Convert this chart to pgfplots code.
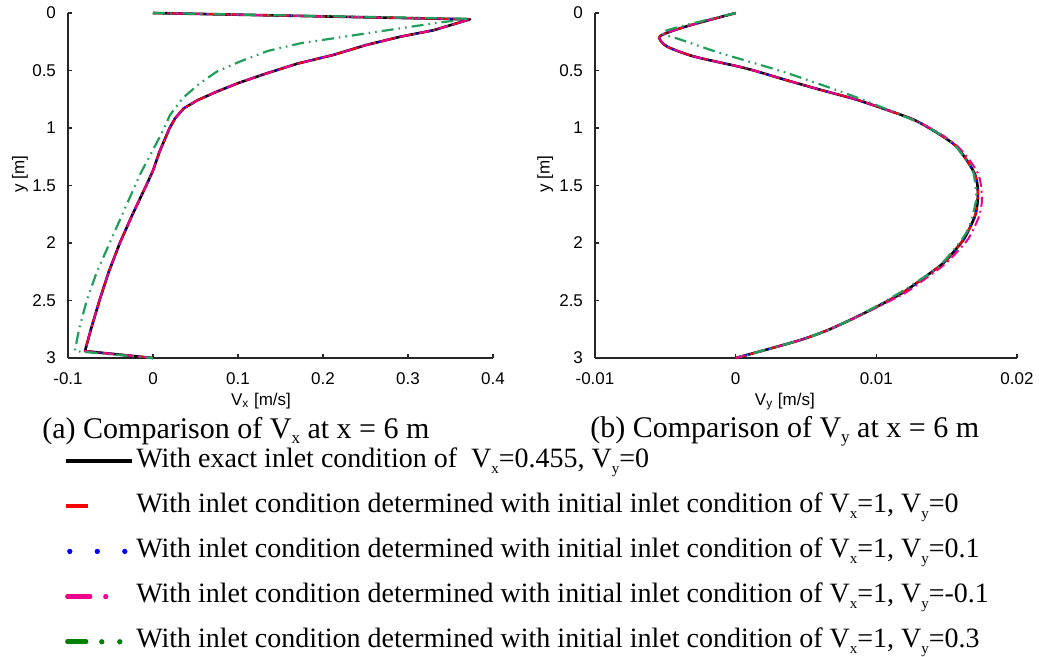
\documentclass[border=0pt]{standalone}
\usepackage{fontspec}
\setmainfont{Liberation Serif}
\setsansfont{Liberation Sans}
\usepackage{pgfplots}
\pgfplotsset{compat=1.18}
\usepackage{pgfplotstable}

\definecolor{cgreen}{RGB}{30,160,90}
\definecolor{lgreen}{RGB}{0,128,0}

% Vx profiles at x = 6 m (columns: Vx, y)
\pgfplotstableread{
vx      y
0       0
0.373   0.055
0.330   0.15
0.291   0.206
0.250   0.28
0.212   0.365
0.170   0.44
0.134   0.524
0.100   0.61
0.075   0.684
0.052   0.76
0.036   0.83
0.026   0.916
0.0196  1.0
0.008   1.2
0.0     1.37
-0.008  1.5
-0.024  1.75
-0.039  2.0
-0.052  2.25
-0.063  2.5
-0.073  2.75
-0.080  2.94
0       3
}\vxmain

\pgfplotstableread{
vx      y
0       0
0.372   0.05
0.330   0.09
0.251   0.177
0.173   0.264
0.135   0.33
0.102   0.423
0.075   0.51
0.055   0.612
0.035   0.74
0.020   0.887
0.012   1.02
0.0     1.19
-0.015  1.4
-0.030  1.65
-0.051  2.0
-0.066  2.25
-0.078  2.5
-0.087  2.75
-0.092  2.94
0       3
}\vxgreen

% Vy profiles at x = 6 m (columns: Vy, y)
\pgfplotstableread{
vy       y
0        0
-0.0035  0.116
-0.0054  0.203
-0.0049  0.29
-0.0030  0.377
0.0000   0.46
0.0013   0.5
0.0035   0.58
0.0060   0.667
0.0085   0.75
0.0107   0.84
0.0127   0.93
0.0143   1.04
0.0156   1.15
0.0164   1.275
0.0170   1.40
0.0172   1.51
0.0172   1.64
0.0170   1.77
0.0162   1.97
0.0148   2.17
0.0134   2.3
0.0119   2.43
0.0101   2.55
0.0083   2.66
0.0065   2.76
0.0047   2.84
0.0024   2.92
0        3
}\vymain

\pgfplotstableread{
vy       y
0        0
-0.0035  0.116
-0.0054  0.203
-0.0049  0.29
-0.0030  0.377
0.0000   0.46
0.0013   0.5
0.0035   0.58
0.0060   0.667
0.0085   0.75
0.0107   0.84
0.0127   0.93
0.0144   1.04
0.0157   1.15
0.0166   1.275
0.01725  1.40
0.01745  1.51
0.0175   1.64
0.0173   1.77
0.0165   1.97
0.0150   2.17
0.0136   2.3
0.0121   2.43
0.0102   2.55
0.0083   2.66
0.0065   2.76
0.0047   2.84
0.0024   2.92
0        3
}\vymag

\pgfplotstableread{
vy       y
0        0
-0.0039  0.116
-0.00525 0.174
-0.0039  0.232
-0.0011  0.348
0.0036   0.52
0.0084   0.725
0.0131   0.957
0.0154   1.13
0.0165   1.3
0.0169   1.39
0.0171   1.62
0.0164   1.91
0.0145   2.2
0.0131   2.32
0.0117   2.43
0.0100   2.55
0.0083   2.66
0.0065   2.76
0.0047   2.84
0.0024   2.92
0        3
}\vygreen

\newcommand{\lsub}[1]{\raisebox{-3pt}{\fontsize{7.5}{8}\selectfont #1}}
\newcommand{\csub}[1]{\raisebox{-2.5pt}{\fontsize{8.5}{9}\selectfont #1}}
\newcommand{\tickfont}{\sffamily\fontsize{8.5}{10}\selectfont}

\pgfplotsset{
  profile/.style={
    scale only axis,
    height=172.5pt,
    y dir=reverse,
    ymin=0, ymax=3,
    ytick={0,0.5,1,1.5,2,2.5,3},
    axis x line*=bottom,
    axis y line*=left,
    tick align=inside,
    major tick length=2.2pt,
    axis line style={line width=0.8pt, black!85},
    tick style={line width=0.6pt, black!85},
    tick label style={font=\tickfont},
    label style={font=\tickfont},
    /pgf/number format/assume math mode=true,
    xticklabel style={yshift=-4pt},
    yticklabel style={xshift=-2.5pt},
    every axis plot/.append style={line join=round},
    clip=false,
  },
  blk/.style={black, line width=1.3pt},
  rd/.style={red, line width=1pt, dash pattern=on 5pt off 4pt},
  bl/.style={blue, line width=1pt, dash pattern=on 0.8pt off 3pt},
  mg/.style={magenta, line width=1pt, dash pattern=on 5pt off 2pt on 1pt off 2pt},
  gr/.style={cgreen, line width=1.1pt, dash pattern=on 6pt off 2.5pt on 0.8pt off 2.5pt on 0.8pt off 2.5pt},
}

\begin{document}
\begin{tikzpicture}

\begin{axis}[profile,
  at={(34pt,-179pt)}, anchor=south west,
  width=212.5pt,
  xmin=-0.1, xmax=0.4,
  xtick={-0.1,0,0.1,0.2,0.3,0.4},
  xticklabels={-0.1,0,0.1,0.2,0.3,0.4},
  xlabel={V\textsubscript{x} [m/s]},
  xlabel style={at={(axis description cs:0.454,-0.125)}, anchor=center},
  ylabel={y [m]},
  ylabel style={at={(axis description cs:-0.113,0.533)}, anchor=center},
  legend image code/.code={\draw[#1] (0pt,0pt) -- (33pt,0pt); \path (0pt,0pt) -- (33pt,0pt);},
  legend style={at={(axis description cs:-0.012,-0.251)}, anchor=north west,
    draw=none, fill=none, inner sep=0pt, row sep=6.6pt,
    font=\fontsize{14}{15}\selectfont,
    nodes={inner sep=1pt, text height=10pt, text depth=4pt}},
  legend cell align=left,
]
\addlegendimage{black, line width=2pt}
\addlegendentry{With exact inlet condition of\hspace{0.5em}V\lsub{x}=0.455, V\lsub{y}=0}
\addlegendimage{red, line width=2pt, dash pattern=on 15pt off 30pt, dash phase=4pt}
\addlegendentry{With inlet condition determined with initial inlet condition of V\lsub{x}=1, V\lsub{y}=0}
\addlegendimage{blue, line width=2.5pt, line cap=round, dash pattern=on 0pt off 13.75pt, dash phase=-2pt}
\addlegendentry{With inlet condition determined with initial inlet condition of V\lsub{x}=1, V\lsub{y}=0.1}
\addlegendimage{magenta, line width=2.5pt, line cap=round, dash pattern=on 11pt off 8pt on 0pt off 20pt, dash phase=-1pt}
\addlegendentry{With inlet condition determined with initial inlet condition of V\lsub{x}=1, V\lsub{y}=-0.1}
\addlegendimage{lgreen, line width=2.5pt, line cap=round, dash pattern=on 9pt off 8pt on 0pt off 9pt on 0pt off 20pt, dash phase=-1pt}
\addlegendentry{With inlet condition determined with initial inlet condition of V\lsub{x}=1, V\lsub{y}=0.3}

\addplot[blk, forget plot] table[x=vx, y=y] {\vxmain};
\addplot[rd, forget plot] table[x=vx, y=y] {\vxmain};
\addplot[bl, forget plot] table[x=vx, y=y] {\vxmain};
\addplot[mg, forget plot] table[x=vx, y=y] {\vxmain};
\addplot[gr, forget plot] table[x=vx, y=y] {\vxgreen};
\end{axis}

\begin{axis}[profile,
  at={(297.5pt,-179pt)}, anchor=south west,
  width=211pt,
  xmin=-0.01, xmax=0.02,
  xtick={-0.01,0,0.01,0.02},
  xticklabels={-0.01,0,0.01,0.02},
  scaled x ticks=false,
  xlabel={V\textsubscript{y} [m/s]},
  xlabel style={at={(axis description cs:0.45,-0.125)}, anchor=center},
  ylabel={y [m]},
  ylabel style={at={(axis description cs:-0.118,0.533)}, anchor=center},
]
\addplot[blk, smooth, tension=0.4] table[x=vy, y=y] {\vymain};
\addplot[rd, smooth, tension=0.4] table[x=vy, y=y] {\vymain};
\addplot[bl, smooth, tension=0.4] table[x=vy, y=y] {\vymain};
\addplot[mg, smooth, tension=0.4] table[x=vy, y=y] {\vymag};
\addplot[gr, smooth, tension=0.4] table[x=vy, y=y] {\vygreen};
\end{axis}

\node[anchor=west, inner sep=0pt, font=\fontsize{15}{16}\selectfont] at (21pt,-215.5pt)
  {(a) Comparison of V\csub{x} at x = 6 m};
\node[anchor=west, inner sep=0pt, font=\fontsize{15}{16}\selectfont] at (295pt,-215.5pt)
  {(b) Comparison of V\csub{y} at x = 6 m};

\pgfresetboundingbox
\useasboundingbox (0pt,0pt) rectangle (519.5pt,-328.5pt);
\end{tikzpicture}
\end{document}
